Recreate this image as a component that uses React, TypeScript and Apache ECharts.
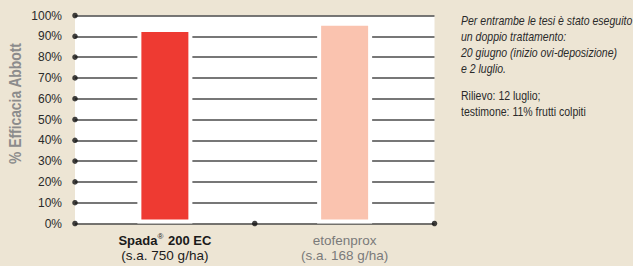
import React, { useEffect, useRef } from "react";
import * as echarts from "echarts";

const categories = ["Spada® 200 EC|(s.a. 750 g/ha)", "etofenprox|(s.a. 168 g/ha)"];
const efficacy = [94, 97];
const barColors = ["#EE3A32", "#FAC3AF"];
const yTicks = [0, 10, 20, 30, 40, 50, 60, 70, 80, 90, 100];
const boundaryDots = [1, 2];
const noteLines = [
  "Per entrambe le tesi è stato eseguito",
  "un doppio trattamento:",
  "20 giugno (inizio ovi-deposizione)",
  "e 2 luglio.",
];
const noteLines2 = ["Rilievo: 12 luglio;", "testimone: 11% frutti colpiti"];
const yAxisTitle = "% Efficacia Abbott";

const FONT = "'Liberation Sans', Arial, sans-serif";

export default function App() {
  const ref = useRef<HTMLDivElement>(null);
  useEffect(() => {
    if (!ref.current) return;
    const chart = echarts.init(ref.current, null, { renderer: "svg" });
    const dots: number[][] = [];
    yTicks.forEach((v) => dots.push([0, v]));
    boundaryDots.forEach((x) => dots.push([x, 0]));
    chart.setOption({
      animation: false,
      backgroundColor: "#EDE5D4",
      textStyle: { fontFamily: FONT },
      grid: {
        left: 75,
        right: 198.5,
        top: 15.5,
        bottom: 42.5,
        show: true,
        backgroundColor: "#ffffff",
        borderWidth: 0,
      },
      xAxis: [
        {
          type: "category",
          data: categories,
          axisLine: { show: false },
          axisTick: { show: false },
          axisLabel: {
            margin: 9,
            interval: 0,
            formatter: (val: string, idx: number) => {
              const [a, b] = val.split("|");
              if (idx === 0) {
                const parts = a.split("®");
                return `{b|${parts[0]}}{sup|®}{b|${parts[1]}}\n{n|${b}}`;
              }
              return `{g|${a}}\n{g|${b}}`;
            },
            rich: {
              b: { fontFamily: FONT, fontWeight: "bold", fontSize: 13, color: "#1a1a1a", lineHeight: 15.5 },
              sup: { fontFamily: FONT, fontSize: 8, color: "#1a1a1a", verticalAlign: "top", lineHeight: 15.5, padding: [0, 1, 4, 0] },
              n: { fontFamily: FONT, fontSize: 13.5, color: "#1a1a1a", lineHeight: 15.5 },
              g: { fontFamily: FONT, fontSize: 13.5, color: "#7a7a7a", lineHeight: 15.5 },
            },
          },
        },
        { type: "value", min: 0, max: 2, show: false },
      ],
      yAxis: {
        type: "value",
        min: 0,
        max: 100,
        interval: 10,
        axisLine: { show: false },
        axisTick: { show: false },
        axisLabel: {
          formatter: "{value}%",
          margin: 13,
          fontFamily: FONT,
          fontSize: 12,
          color: "#2a2a2a",
        },
        splitLine: { lineStyle: { color: "#4a4a4a", width: 1.5 } },
      },
      graphic: [
        {
          type: "text",
          x: 15.5,
          y: 103.5,
          rotation: Math.PI / 2,
          scaleX: 0.865,
          style: {
            text: yAxisTitle,
            fontFamily: FONT,
            fontWeight: "bold",
            fontSize: 16,
            fill: "#8c8c8c",
            align: "center",
            verticalAlign: "middle",
          },
        },
        {
          type: "text",
          x: 461,
          y: 12,
          scaleX: 0.81,
          style: {
            text: noteLines.join("\n"),
            fontFamily: FONT,
            fontStyle: "italic",
            fontSize: 13,
            lineHeight: 16.3,
            fill: "#2a2a2a",
          },
        },
        {
          type: "text",
          x: 461,
          y: 87,
          scaleX: 0.81,
          style: {
            text: noteLines2.join("\n"),
            fontFamily: FONT,
            fontSize: 13,
            lineHeight: 16.5,
            fill: "#2a2a2a",
          },
        },
      ],
      series: [
        {
          type: "bar",
          xAxisIndex: 0,
          barWidth: 55,
          data: efficacy.map((v, i) => ({
            value: v,
            itemStyle: { color: barColors[i], borderColor: "#ffffff", borderWidth: 4 },
          })),
        },
        {
          type: "scatter",
          xAxisIndex: 1,
          data: dots,
          symbolSize: 5.5,
          clip: false,
          itemStyle: { color: "#111111" },
          z: 5,
        },
      ],
    });
    return () => chart.dispose();
  }, []);
  return (
    <div
      ref={ref}
      style={{ position: "fixed", left: 0, top: 0, width: 633, height: 266 }}
    />
  );
}
